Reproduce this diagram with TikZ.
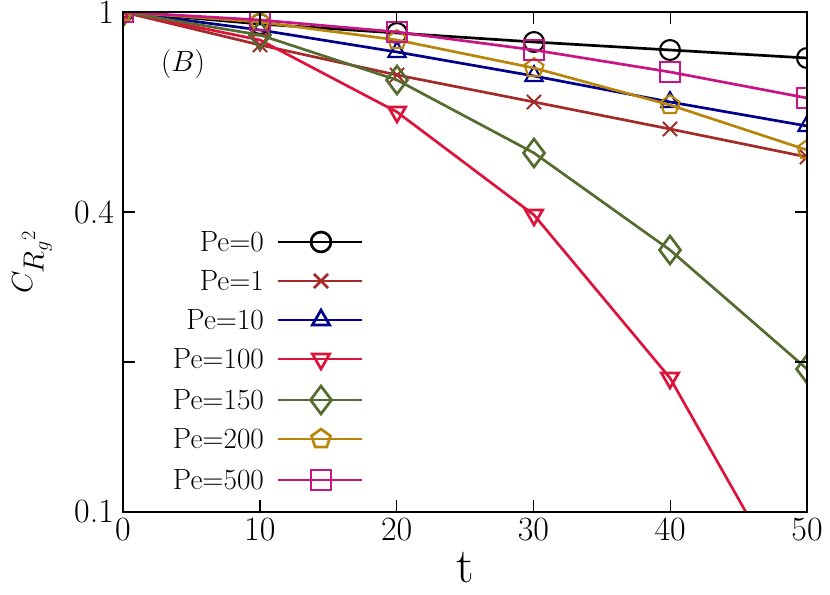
\documentclass[tikz,border=0pt]{standalone}
\usetikzlibrary{plotmarks}
\definecolor{cbrown}{HTML}{A52A2A}
\definecolor{cnavy}{HTML}{00008B}
\definecolor{ccrimson}{HTML}{DC143C}
\definecolor{colive}{HTML}{556B2F}
\definecolor{cgold}{HTML}{B8860B}
\definecolor{cmag}{HTML}{C71585}
\tikzset{
  curve/.style={line width=2.3pt, mark size=8.5pt, mark options={solid, line width=1.8pt, fill=none}},
  ticklab/.style={font=\fontsize{29}{29}\selectfont},
  legtext/.style={anchor=east, font=\fontsize{25}{25}\selectfont}
}
\begin{document}
\begin{tikzpicture}[x=0.03cm, y=-0.03cm]
\useasboundingbox (0,0) rectangle (830,595);

% data
\begin{scope}
\clip (123,12) rectangle (807,512);
\draw[curve, black, mark=o] plot coordinates {(123,12) (260,24) (397,33) (534,42) (670,50) (807,58)};
\draw[curve, cbrown, mark=x] plot coordinates {(123,12) (260,45) (397,75) (534,102) (670,129) (807,157)};
\draw[curve, cnavy, mark=triangle] plot coordinates {(123,12) (260,30) (397,52) (534,76) (670,102) (807,126)};
\draw[curve, ccrimson, mark=triangle, mark options={rotate=180}] plot coordinates {(123,12) (260,40) (397,112) (534,215) (670,378) (807,620)};
\draw[curve, colive, mark=diamond, mark options={scale=1.4}] plot coordinates {(123,12) (260,35) (397,80) (534,153) (670,250) (807,369)};
\draw[curve, cgold, mark=pentagon] plot coordinates {(123,12) (260,22) (397,40) (534,68) (670,105) (807,150)};
\draw[curve, cmag, mark=square] plot coordinates {(123,12) (260,20) (397,32) (534,50) (670,72) (807,98)};
\end{scope}

% frame and ticks
\draw[line width=1.2pt] (123,12) rectangle (807,512);
\foreach \t in {0,10,...,50} {
  \pgfmathsetmacro{\xp}{123+13.68*\t}
  \draw[line width=1.2pt] (\xp,512) -- (\xp,500) (\xp,12) -- (\xp,24);
  \node[ticklab, anchor=north] (xt\t) at (\xp,514) {\t};
}
\foreach \yp in {12,212,362,512} {
  \draw[line width=1.2pt] (123,\yp) -- (135,\yp) (807,\yp) -- (795,\yp);
}
\node[ticklab, anchor=east] (y1) at (118,12) {1};
\node[ticklab, anchor=east] (y04) at (118,212) {0.4};
\node[ticklab, anchor=east] (y01) at (118,512) {0.1};
\node[font=\fontsize{42}{42}\selectfont] (xlab) at (465,568) {t};
\node[rotate=90, font=\fontsize{34}{34}\selectfont] (ylab) at (32,262) {$C_{R_g{}^2}$};
\node[font=\fontsize{25}{25}\selectfont] (lab) at (183,64) {$(B)$};

% legend
\foreach \n/\c/\m/\r/\s/\yy in {0/black/o/0/1/242, 1/cbrown/x/0/1/281, 10/cnavy/triangle/0/1/320,
    100/ccrimson/triangle/180/1/359, 150/colive/diamond/0/1.4/400,
    200/cgold/pentagon/0/1/439, 500/cmag/square/0/1/480} {
  \node[legtext] (leg\n) at (268,\yy) {Pe=\n};
  \draw[curve, \c, mark=\m, mark indices={2}, mark options={rotate=\r, scale=\s}] plot coordinates {(278,\yy) (321,\yy) (362,\yy)};
}
\end{tikzpicture}
\end{document}
